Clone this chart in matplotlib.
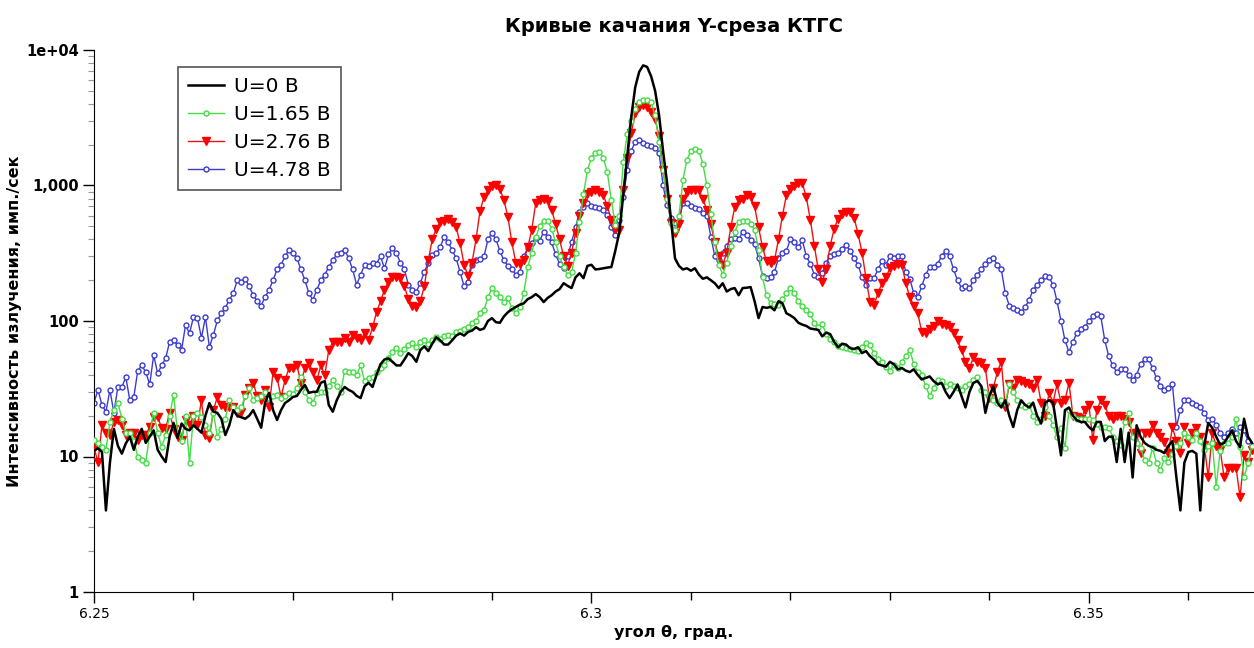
import numpy as np
import matplotlib
matplotlib.use('Agg')
import matplotlib.pyplot as plt
from matplotlib.ticker import FixedLocator, FixedFormatter, NullFormatter

plt.rcParams['font.family'] = ['DejaVu Sans']

# шаг сканирования по углу
theta_start = 6.25
theta_step = 0.0004

# U = 0 В
u0 = [
    11, 11.5, 10.8, 4.0, 9, 16, 12, 10.5, 12.5, 14,
    11.2, 14, 16, 12.6, 14, 15.6, 11.2, 10, 9.1, 14,
    17.7, 13.7, 17.5, 16, 15.6, 17, 16, 15, 20, 24.8,
    21.4, 21, 19, 14.4, 17, 22, 20, 19.5, 19, 20,
    22, 19, 16.3, 25, 29.5, 22, 18.6, 22, 24.8, 26,
    27.5, 28, 31, 33.7, 29.5, 30, 30, 35, 36, 24,
    21.4, 26, 30, 32.6, 31, 30, 28, 27, 33, 35,
    32.6, 40, 48, 52, 53, 50, 47, 47, 52, 58,
    55, 50, 61, 65, 60, 68, 76, 72, 67, 67,
    72, 78, 81, 78, 83, 85, 90, 86, 88, 100,
    105, 98, 97, 108, 116, 122, 127, 132, 135, 145,
    150, 158, 150, 138, 148, 155, 165, 172, 190, 182,
    175, 210, 225, 207, 255, 260, 240, 242, 245, 248,
    250, 330, 450, 850, 1650, 3200, 5300, 6900, 7700, 7500,
    6400, 5000, 3300, 1800, 1050, 560, 290, 255, 240, 245,
    235, 245, 220, 205, 210, 200, 190, 175, 190, 165,
    172, 175, 155, 175, 176, 178, 140, 105, 127, 125,
    127, 120, 140, 135, 114, 110, 105, 97, 94, 92,
    88, 87, 86, 77, 82, 80, 70, 64, 68, 67,
    63, 62, 64, 58, 60, 55, 52, 48, 47, 46,
    50, 48, 44, 45, 43, 42, 44, 40, 37, 38,
    39, 36, 34, 35, 30, 27, 30, 34, 28, 23,
    30, 35, 36, 33, 21, 28, 33, 25, 23, 26,
    20, 16.5, 22, 26, 24, 23, 25, 20, 17.5, 25,
    26, 25, 16, 10.2, 22, 23, 20, 18.5, 18, 18,
    16.5, 15.6, 18, 18, 13, 14, 14, 9.1, 16, 9.1,
    15, 7, 17, 14, 12.6, 12, 11.7, 11.2, 11, 10.6,
    12, 13, 7, 4, 9, 10.8, 11, 10.5, 4, 12,
    17.7, 16.3, 14, 12.2, 12.6, 14, 15.6, 13, 11.7, 19,
    14, 12.6,
]

# U = 1.65 В
u165 = [
    13.2, 12.6, 11.8, 11.2, 18, 22, 25, 19, 15, 15,
    13, 10, 9.5, 8.9, 15, 21, 15, 11.8, 14.4, 20,
    28.5, 15, 13, 20, 9, 20, 21, 19.5, 17, 15,
    21, 14, 16, 19, 26, 23, 22, 23, 28, 32,
    26, 27, 28, 30, 27, 28, 28.5, 27, 28, 29.5,
    29, 32, 38.5, 30, 26, 25, 29.5, 30, 30, 33,
    36.5, 33, 30, 43, 42, 42, 40, 47, 36, 38,
    38.5, 42, 45, 47, 53, 59, 63, 58, 62, 66,
    69, 64, 70, 72, 68, 72, 76, 74, 78, 79,
    77, 83, 85, 88, 90, 97, 100, 114, 120, 150,
    175, 160, 150, 138, 147, 125, 114, 127, 160, 250,
    320, 415, 500, 550, 545, 480, 380, 300, 250, 220,
    228, 315, 540, 860, 1300, 1600, 1750, 1780, 1600, 1250,
    780, 510, 600, 1500, 2400, 3000, 3700, 4100, 4300, 4300,
    4100, 3300, 2100, 1300, 800, 530, 470, 600, 1100, 1550,
    1800, 1870, 1800, 1450, 1000, 620, 380, 260, 220, 270,
    360, 450, 540, 550, 545, 520, 470, 335, 210, 155,
    135, 133, 131, 145, 160, 175, 160, 140, 130, 120,
    112, 97, 90, 95, 80, 74, 70, 65, 64, 63,
    62, 61, 60, 64, 69, 66, 58, 52, 50, 46,
    43, 47, 45, 50, 55, 61, 48, 42, 40, 33,
    28, 32, 37, 36, 33, 34, 33, 32, 31, 33,
    34, 37, 38.6, 31, 30, 28, 26, 25, 26, 25,
    34, 30, 26, 24, 23, 24, 20, 18, 19, 23,
    20, 17, 14, 16.3, 11.5, 22, 20, 19, 19, 19,
    19, 18.6, 17.5, 16.5, 16.5, 16.3, 14, 13, 12.2, 18,
    21, 14, 12.5, 11.5, 9.5, 8.9, 11.5, 9, 7.9, 9.7,
    9.1, 10.5, 12, 12.6, 15, 14, 13.2, 15, 13, 11.2,
    12, 12.6, 6, 11, 12.6, 12.6, 14, 19, 11.8, 7,
    9, 12,
]

# U = 2.76 В
u276 = [
    11.6, 9.1, 17, 15, 14.4, 18, 18.6, 17, 14.4, 15,
    15, 13.2, 14.4, 14.4, 16.5, 19.5, 19.5, 16.3, 16, 21,
    16, 14, 13.2, 18.6, 17, 20, 17, 26, 14.4, 13.7,
    22, 27.5, 24, 23, 23, 23, 21, 21.4, 28.5, 32,
    35, 28, 26, 31, 23, 42, 38, 27.5, 36.5, 45,
    45, 47, 35, 45, 49, 42, 36.5, 47, 40, 61,
    70, 70, 70, 75, 70, 79, 75, 72, 81, 72,
    90, 116, 140, 170, 195, 210, 210, 207, 180, 145,
    130, 127, 140, 180, 280, 400, 480, 540, 550, 570,
    540, 490, 375, 260, 215, 270, 400, 650, 820, 920,
    990, 1000, 940, 780, 590, 380, 270, 265, 280, 350,
    470, 740, 780, 800, 770, 660, 520, 400, 300, 255,
    320, 445, 600, 740, 860, 890, 920, 900, 850, 700,
    560, 480, 470, 920, 1600, 2450, 3400, 3800, 3950, 3800,
    3500, 3100, 2300, 1300, 800, 530, 445, 520, 800, 900,
    920, 930, 920, 800, 660, 520, 380, 300, 260, 320,
    490, 690, 780, 800, 850, 820, 700, 490, 350, 275,
    270, 280, 400, 600, 850, 950, 990, 1050, 1040, 820,
    560, 360, 240, 195, 240, 360, 480, 570, 620, 635,
    640, 580, 440, 320, 207, 138, 131, 160, 190, 210,
    245, 255, 262, 260, 190, 150, 130, 115, 83, 82,
    88, 92, 100, 95, 93, 90, 82, 72, 61, 50,
    45, 54, 50, 49, 45, 27, 32, 42, 50, 23,
    34, 32, 37, 36, 35, 34, 32, 36.5, 25, 20,
    29.5, 25, 34, 25, 26, 35, 20, 19.5, 19, 22,
    24, 13.2, 22, 26, 24, 20, 19, 20, 20, 19,
    18, 15, 15, 10.6, 15, 15, 17, 15, 14, 12.8,
    10.6, 16.5, 13, 10.6, 16.5, 12.6, 15, 16.3, 14, 12.2,
    7, 15, 12, 11.2, 7, 8.2, 8.2, 8.2, 5, 10.2,
    9.1, 11.2,
]

# U = 4.78 В
u478 = [
    25, 31, 24, 21.4, 31, 21, 32.6, 32.6, 38.5, 26,
    27.5, 43, 47, 42, 34, 56, 41, 47, 53, 70,
    72, 66, 61, 93, 81, 107, 105, 75, 107, 64,
    79, 101, 114, 125, 143, 160, 200, 195, 205, 180,
    155, 140, 130, 150, 170, 200, 240, 260, 300, 335,
    320, 290, 240, 200, 160, 143, 170, 200, 220, 250,
    280, 310, 320, 335, 290, 240, 185, 220, 260, 255,
    270, 265, 300, 245, 310, 345, 315, 270, 240, 185,
    170, 165, 190, 230, 270, 305, 315, 350, 420, 380,
    335, 290, 230, 180, 195, 260, 280, 285, 300, 400,
    445, 400, 330, 280, 255, 240, 220, 230, 300, 345,
    375, 410, 390, 455, 420, 380, 310, 265, 245, 300,
    380, 490, 640, 690, 740, 710, 690, 680, 660, 610,
    490, 430, 560, 820, 1300, 1800, 2100, 2150, 2050, 2000,
    1950, 1900, 1750, 1000, 720, 580, 530, 550, 740, 740,
    700, 680, 670, 630, 600, 420, 300, 280, 315, 360,
    400, 410, 400, 455, 430, 395, 370, 290, 215, 207,
    210, 230, 290, 315, 330, 400, 380, 350, 395, 300,
    265, 220, 210, 225, 270, 300, 310, 315, 340, 365,
    330, 290, 260, 210, 185, 207, 207, 240, 275, 260,
    300, 290, 300, 300, 230, 205, 160, 150, 180, 220,
    250, 250, 265, 300, 330, 300, 240, 200, 175, 180,
    175, 200, 220, 240, 265, 280, 290, 260, 240, 160,
    130, 125, 120, 116, 127, 143, 170, 185, 200, 215,
    210, 185, 140, 100, 72, 59, 70, 82, 88, 90,
    100, 108, 112, 108, 72, 55, 47, 42, 44, 44,
    40, 37, 40, 48, 52, 52, 45, 38, 33, 31,
    32, 34, 16.5, 22, 26, 26, 25, 24, 23, 21,
    18.6, 19, 17, 15, 14, 15, 16, 15, 16.5, 15.6,
    13, 12,
]

theta = theta_start + theta_step * np.arange(len(u0))

fig = plt.figure(figsize=(12.54, 6.48), dpi=100)
ax = fig.add_axes([94 / 1254, 56 / 648, 1160 / 1254, 542 / 648])
ax.set_yscale('log')

l478, = ax.plot(theta, u478, color='#3b3bd0', lw=1.0, marker='o', ms=3.6,
                mfc='white', mec='#3b3bd0', mew=1.0, zorder=2, label='U=4.78 В')
l276, = ax.plot(theta, u276, color='#ee1111', lw=1.0, marker='v', ms=6,
                mfc='#ff0000', mec='#ff0000', zorder=3, label='U=2.76 В')
l165, = ax.plot(theta, u165, color='#44dd44', lw=1.0, marker='o', ms=3.6,
                mfc='white', mec='#44dd44', mew=1.0, zorder=4, label='U=1.65 В')
l0, = ax.plot(theta, u0, color='black', lw=1.8, zorder=5, label='U=0 В')

ax.set_xlim(6.25, 6.3666)
ax.set_ylim(1, 1e4)

for side in ('top', 'right'):
    ax.spines[side].set_visible(False)

ax.xaxis.set_major_locator(FixedLocator([6.25, 6.30, 6.35]))
ax.xaxis.set_major_formatter(FixedFormatter(['6.25', '6.3', '6.35']))
ax.xaxis.set_minor_locator(FixedLocator(np.arange(6.26, 6.37, 0.01)))
ax.yaxis.set_major_locator(FixedLocator([1, 10, 100, 1000, 10000]))
ax.yaxis.set_major_formatter(FixedFormatter(['1', '10', '100', '1,000', '1e+04']))
ax.yaxis.set_minor_locator(FixedLocator(
    [m * 10.0 ** d for d in range(4) for m in range(2, 10)]))
ax.yaxis.set_minor_formatter(NullFormatter())

ax.tick_params(axis='x', which='major', direction='out', length=8, width=1,
               labelsize=10, pad=3)
ax.tick_params(axis='x', which='minor', direction='out', length=6, width=1)
ax.tick_params(axis='y', which='major', direction='out', length=8, width=1,
               labelsize=10.5, pad=3)
ax.tick_params(axis='y', which='minor', direction='out', length=4, width=0.8,
               color='#999999')
for lbl in ax.get_yticklabels():
    lbl.set_fontweight('bold')

ax.set_title('Кривые качания Y-среза КТГС', fontsize=14, fontweight='bold', pad=13)
ax.set_xlabel('угол θ, град.', fontsize=11.5, fontweight='bold', labelpad=3)
ax.set_ylabel('Интенсивность излучения, имп./сек', fontsize=11.5,
              fontweight='bold', labelpad=3)

leg = ax.legend(handles=[l0, l165, l276, l478], loc='upper left',
                bbox_to_anchor=(0.072, 0.969), borderaxespad=0,
                fontsize=14.5, numpoints=1, handlelength=1.8,
                handletextpad=0.5, labelspacing=0.45, borderpad=0.5,
                fancybox=False, framealpha=1, edgecolor='#555555')
leg.get_frame().set_linewidth(1.2)

fig.savefig('out.png', dpi=100)
